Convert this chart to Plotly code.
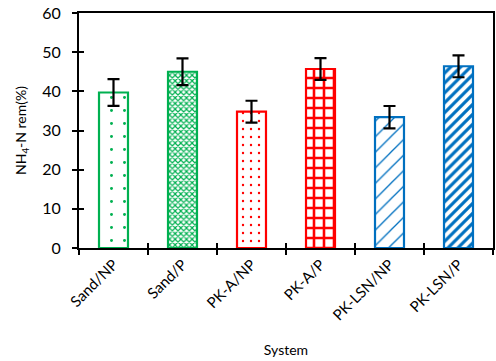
import plotly.graph_objects as go

categories = ["Sand/NP", "Sand/P", "PK-A/NP", "PK-A/P", "PK-LSN/NP", "PK-LSN/P"]
values = [39.7, 45.0, 34.8, 45.7, 33.4, 46.4]
errors = [3.4, 3.4, 2.8, 2.8, 2.85, 2.8]
colors = ["#00B050", "#00B050", "#FF0000", "#FF0000", "#0070C0", "#0070C0"]
shapes = [".", "x", ".", "+", "/", "/"]
psizes = [13, 4, 8, 10, 11, 7]
psolid = [0.04, 0.5, 0.07, 0.45, 0.12, 0.45]

font = "Lato, 'Open Sans', sans-serif"

fig = go.Figure()
fig.add_trace(go.Bar(
    x=categories, y=values, width=0.42,
    marker=dict(
        color="white",
        line=dict(color=colors, width=2.2),
        pattern=dict(shape=shapes, fgcolor=colors, bgcolor="white", fgopacity=1,
                     size=psizes, solidity=psolid, fillmode="overlay"),
    ),
    error_y=dict(type="data", array=errors, color="black", thickness=2.2, width=6),
    showlegend=False,
))
# invisible trace to drive mirrored inside ticks
fig.add_trace(go.Scatter(x=categories, y=values, mode="none", xaxis="x2", yaxis="y2",
                         showlegend=False, hoverinfo="skip"))

axis_common = dict(showline=True, linecolor="black", linewidth=2, tickcolor="black",
                   tickwidth=2, ticklen=5, showgrid=False, zeroline=False)

fig.update_layout(
    width=496, height=361,
    margin=dict(l=79, r=1, t=13, b=113),
    plot_bgcolor="white", paper_bgcolor="white",
    font=dict(family=font, color="black"),
    xaxis=dict(**axis_common, ticks="outside", tickson="boundaries", mirror=True,
               tickangle=-45, tickfont=dict(size=15), range=[-0.5, 5.5],
               title=dict(text="System", font=dict(size=14), standoff=23)),
    yaxis=dict(**axis_common, ticks="outside", mirror=True, range=[0, 60], dtick=10,
               tickfont=dict(size=16), ticklabelstandoff=8,
               title=dict(text="NH<sub>4</sub>-N rem(%)", font=dict(size=14), standoff=12)),
    xaxis2=dict(overlaying="x", matches="x", ticks="inside", tickson="boundaries",
                showticklabels=False, tickcolor="black", tickwidth=2, ticklen=5,
                showgrid=False, zeroline=False, showline=False, range=[-0.5, 5.5]),
    yaxis2=dict(overlaying="y", ticks="inside", showticklabels=False, tickcolor="black",
                tickwidth=2, ticklen=5, showgrid=False, zeroline=False, showline=False,
                range=[0, 60], dtick=10),
)

fig.write_html("out.html")
